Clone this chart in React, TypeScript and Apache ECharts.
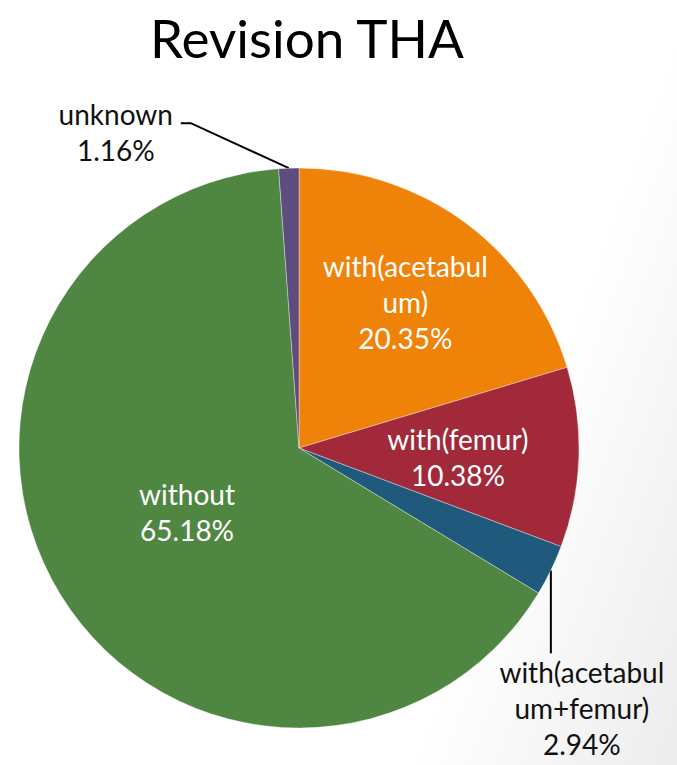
import React, { useEffect, useRef } from "react";
import * as echarts from "echarts";

const categories = [
  "with(acetabulum)",
  "with(femur)",
  "with(acetabulum+femur)",
  "without",
  "unknown",
];
const displayLabels = [
  "with(acetabul\num)",
  "with(femur)",
  "with(acetabul\num+femur)",
  "without",
  "unknown",
];
const values = [20.35, 10.38, 2.94, 65.18, 1.16];
const colors = ["#EF8209", "#A2293A", "#1F5A7D", "#4F8742", "#5F4B7C"];

const W = 677;
const H = 765;
const FONT = "Lato, 'Open Sans', sans-serif";

export default function App() {
  const ref = useRef<HTMLDivElement>(null);
  useEffect(() => {
    if (!ref.current) return;
    const chart = echarts.init(ref.current, null, { renderer: "svg" });
    const insideOffsets: Record<number, number[]> = {
      0: [21, -31],
      1: [16, 4],
      3: [10, -11],
    };
    const data = categories.map((name, i) => {
      const inside = i === 0 || i === 1 || i === 3;
      return {
        name,
        value: values[i],
        itemStyle: { color: colors[i] },
        label: inside
          ? {
              position: "inside",
              color: "#ffffff",
              offset: insideOffsets[i],
            }
          : { position: "outside", color: "#111111" },
        labelLine: inside
          ? { show: false }
          : { show: true, lineStyle: { color: "#000", width: 2 } },
      };
    });
    chart.setOption({
      animation: false,
      backgroundColor: "transparent",
      title: {
        text: "Revision THA",
        left: 302,
        textAlign: "center",
        top: 6,
        textStyle: {
          fontFamily: FONT,
          fontSize: 53,
          fontWeight: "normal",
          color: "#000",
        },
      },
      series: [
        {
          type: "pie",
          center: [299, 448],
          radius: 280,
          startAngle: 90,
          clockwise: true,
          avoidLabelOverlap: false,
          itemStyle: { borderColor: "rgba(255,255,255,0.6)", borderWidth: 0.6 },
          label: {
            show: true,
            fontFamily: FONT,
            fontSize: 28,
            fontWeight: "normal",
            lineHeight: 36,
            align: "center",
            formatter: (p: any) =>
              displayLabels[p.dataIndex] + "\n" + Number(p.value).toFixed(2) + "%",
          },
          labelLayout: (params: any) => {
            const pts = params.labelLinePoints;
            if (!pts) return {};
            const p0 = pts[0];
            if (params.dataIndex === 4) {
              const p1 = [p0[0] - 98, p0[1] - 45];
              const p2 = [p1[0] - 10, p1[1]];
              return {
                x: p2[0] - 65,
                y: p2[1] + 9,
                align: "center",
                verticalAlign: "middle",
                labelLinePoints: [p0, p1, p2],
              };
            }
            if (params.dataIndex === 2) {
              const p1 = [p0[0], p0[1] + 83];
              return {
                x: p0[0] + 31,
                y: p1[1] + 1,
                align: "center",
                verticalAlign: "top",
                labelLinePoints: [p0, p1, p1],
              };
            }
            return {};
          },
          data,
        },
      ],
    });
    return () => chart.dispose();
  }, []);
  return (
    <div
      style={{
        position: "fixed",
        left: 0,
        top: 0,
        width: W,
        height: H,
        background:
          "linear-gradient(110deg, #ffffff 0%, #ffffff 72%, #ececec 100%)",
      }}
    >
      <div ref={ref} style={{ width: W, height: H }} />
    </div>
  );
}
